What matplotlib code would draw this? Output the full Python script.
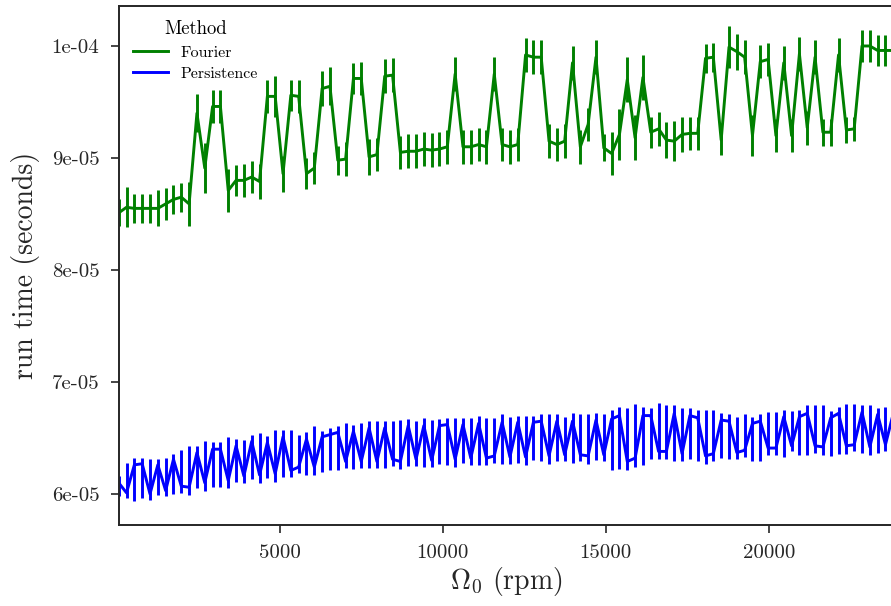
import matplotlib
matplotlib.use("Agg")
import matplotlib.pyplot as plt
from matplotlib.ticker import FixedLocator, FixedFormatter

plt.rcParams['font.family'] = ['cmr10', 'DejaVu Serif']
plt.rcParams['mathtext.fontset'] = 'cm'
plt.rcParams['axes.formatter.use_mathtext'] = True

# rotor speed (rpm), one value every 240 rpm
rpm = [60 + 240 * k for k in range(100)]

# run times in units of 1e-5 s
fourier_mean = [
    8.51, 8.56, 8.55, 8.55, 8.55, 8.55, 8.59, 8.63, 8.65, 8.59,
    9.40, 8.91, 9.46, 9.46, 8.71, 8.80, 8.80, 8.83, 8.79, 9.55,
    9.55, 8.86, 9.56, 9.55, 8.86, 8.91, 9.62, 9.64, 8.98, 8.99,
    9.71, 9.71, 9.01, 9.03, 9.73, 9.74, 9.05, 9.06, 9.06, 9.08,
    9.07, 9.08, 9.10, 9.75, 9.10, 9.10, 9.12, 9.10, 9.75, 9.12,
    9.10, 9.12, 9.92, 9.90, 9.90, 9.15, 9.12, 9.15, 9.85, 9.10,
    9.30, 9.90, 9.09, 9.04, 9.21, 9.70, 9.18, 9.72, 9.23, 9.26,
    9.16, 9.15, 9.21, 9.22, 9.22, 9.89, 9.90, 9.16, 9.99, 9.95,
    9.90, 9.20, 9.86, 9.88, 9.20, 9.85, 9.20, 9.93, 9.27, 9.90,
    9.23, 9.23, 9.92, 9.25, 9.26, 10.00, 10.00, 9.96, 9.96, 9.96,
]
fourier_err = [
    0.12, 0.18, 0.13, 0.13, 0.13, 0.16, 0.14, 0.13, 0.13, 0.20,
    0.17, 0.22, 0.15, 0.15, 0.19, 0.14, 0.15, 0.14, 0.16, 0.15,
    0.18, 0.16, 0.14, 0.15, 0.14, 0.14, 0.16, 0.17, 0.13, 0.15,
    0.14, 0.15, 0.16, 0.15, 0.15, 0.15, 0.15, 0.15, 0.15, 0.15,
    0.15, 0.15, 0.15, 0.15, 0.15, 0.15, 0.15, 0.15, 0.15, 0.15,
    0.15, 0.15, 0.15, 0.15, 0.15, 0.15, 0.15, 0.15, 0.15, 0.15,
    0.15, 0.15, 0.12, 0.19, 0.23, 0.20, 0.20, 0.20, 0.14, 0.15,
    0.16, 0.18, 0.16, 0.15, 0.15, 0.13, 0.13, 0.13, 0.19, 0.16,
    0.15, 0.18, 0.15, 0.15, 0.15, 0.15, 0.15, 0.15, 0.15, 0.15,
    0.12, 0.12, 0.15, 0.12, 0.11, 0.14, 0.14, 0.14, 0.14, 0.14,
]
persistence_mean = [
    6.10, 6.01, 6.26, 6.27, 6.00, 6.26, 6.03, 6.31, 6.07, 6.06,
    6.37, 6.10, 6.40, 6.40, 6.12, 6.43, 6.16, 6.47, 6.17, 6.46,
    6.18, 6.51, 6.21, 6.24, 6.49, 6.24, 6.51, 6.53, 6.55, 6.29,
    6.56, 6.29, 6.59, 6.29, 6.59, 6.31, 6.29, 6.61, 6.31, 6.61,
    6.30, 6.61, 6.62, 6.31, 6.62, 6.32, 6.63, 6.32, 6.34, 6.64,
    6.33, 6.64, 6.33, 6.64, 6.65, 6.34, 6.65, 6.35, 6.65, 6.35,
    6.34, 6.66, 6.35, 6.67, 6.70, 6.29, 6.32, 6.70, 6.70, 6.38,
    6.38, 6.72, 6.36, 6.70, 6.68, 6.34, 6.36, 6.66, 6.65, 6.37,
    6.39, 6.63, 6.65, 6.41, 6.41, 6.69, 6.43, 6.69, 6.72, 6.43,
    6.42, 6.68, 6.72, 6.43, 6.44, 6.73, 6.42, 6.71, 6.44, 6.72,
]
persistence_lo = [
    5.98, 5.96, 5.94, 5.96, 5.95, 5.99, 5.98, 6.00, 6.01, 5.99,
    6.05, 6.03, 6.06, 6.06, 6.05, 6.11, 6.10, 6.13, 6.10, 6.14,
    6.11, 6.15, 6.15, 6.19, 6.17, 6.17, 6.20, 6.21, 6.21, 6.23,
    6.22, 6.23, 6.23, 6.23, 6.23, 6.25, 6.22, 6.25, 6.25, 6.24,
    6.24, 6.27, 6.26, 6.24, 6.28, 6.26, 6.26, 6.26, 6.28, 6.27,
    6.27, 6.28, 6.26, 6.30, 6.29, 6.27, 6.29, 6.29, 6.28, 6.29,
    6.27, 6.30, 6.29, 6.21, 6.22, 6.21, 6.24, 6.26, 6.31, 6.31,
    6.31, 6.29, 6.29, 6.31, 6.29, 6.27, 6.29, 6.32, 6.31, 6.31,
    6.33, 6.29, 6.29, 6.35, 6.35, 6.33, 6.38, 6.35, 6.35, 6.37,
    6.35, 6.34, 6.36, 6.36, 6.38, 6.37, 6.35, 6.37, 6.38, 6.38,
]
persistence_hi = [
    6.16, 6.28, 6.32, 6.32, 6.31, 6.31, 6.32, 6.36, 6.39, 6.43,
    6.43, 6.47, 6.46, 6.46, 6.51, 6.49, 6.48, 6.53, 6.54, 6.52,
    6.57, 6.57, 6.57, 6.53, 6.55, 6.61, 6.56, 6.59, 6.61, 6.63,
    6.62, 6.63, 6.65, 6.65, 6.65, 6.65, 6.66, 6.67, 6.65, 6.68,
    6.66, 6.67, 6.68, 6.68, 6.68, 6.68, 6.70, 6.68, 6.68, 6.71,
    6.69, 6.70, 6.70, 6.70, 6.71, 6.71, 6.71, 6.69, 6.72, 6.71,
    6.71, 6.72, 6.71, 6.75, 6.78, 6.77, 6.80, 6.78, 6.77, 6.81,
    6.79, 6.79, 6.77, 6.77, 6.75, 6.75, 6.75, 6.72, 6.71, 6.69,
    6.71, 6.69, 6.71, 6.73, 6.73, 6.75, 6.74, 6.75, 6.79, 6.79,
    6.79, 6.74, 6.78, 6.80, 6.80, 6.79, 6.79, 6.77, 6.78, 6.78,
]

yticks = [6e-05, 7e-05, 8e-05, 9e-05, 1e-04]
ytick_labels = ['6e-05', '7e-05', '8e-05', '9e-05', '1e-04']
xticks = [5000, 10000, 15000, 20000]

fig = plt.figure(figsize=(8.91, 6.06), dpi=100)
ax = fig.add_axes([118.7 / 891, 1 - 525 / 606, (893.3 - 118.7) / 891, (525 - 6) / 606])

lw = 2.1
# Fourier: symmetric bars
fm = [v * 1e-5 for v in fourier_mean]
fe = [v * 1e-5 for v in fourier_err]
ax.errorbar(rpm, fm, yerr=fe, fmt='-', color='green', lw=lw,
            elinewidth=lw, capsize=0)

# Persistence: bars from lo to hi
pm = [v * 1e-5 for v in persistence_mean]
pe = [[(m - lo) * 1e-5 for m, lo in zip(persistence_mean, persistence_lo)],
      [(hi - m) * 1e-5 for m, hi in zip(persistence_mean, persistence_hi)]]
ax.errorbar(rpm, pm, yerr=pe, fmt='-', color='blue', lw=lw,
            elinewidth=lw, capsize=0)

ax.plot([], [], color='green', lw=lw, label='Fourier')
ax.plot([], [], color='blue', lw=lw, label='Persistence')

ax.set_xlim(60, 23820)
ax.set_ylim(5.723e-05, 1.0357e-04)
ax.yaxis.set_major_locator(FixedLocator(yticks))
ax.yaxis.set_major_formatter(FixedFormatter(ytick_labels))
ax.set_xticks(xticks)
ax.set_xticklabels([str(v) for v in xticks])

for s in ax.spines.values():
    s.set_color('#262626')
    s.set_linewidth(1.4)
ax.tick_params(axis='both', direction='out', length=6, width=1.2,
               color='#262626', labelsize=15, labelcolor='#262626', pad=8)

ax.set_xlabel(r'$\Omega_0$ (rpm)', fontsize=20, color='#262626', labelpad=2)
ax.set_ylabel('run time (seconds)', fontsize=20, color='#262626', labelpad=8)

leg = ax.legend(title='Method', loc='upper left', frameon=False,
                fontsize=11.5, title_fontsize=13.5, handlelength=2.2,
                handletextpad=0.75, labelspacing=0.45)

fig.savefig('out.png', dpi=100)
